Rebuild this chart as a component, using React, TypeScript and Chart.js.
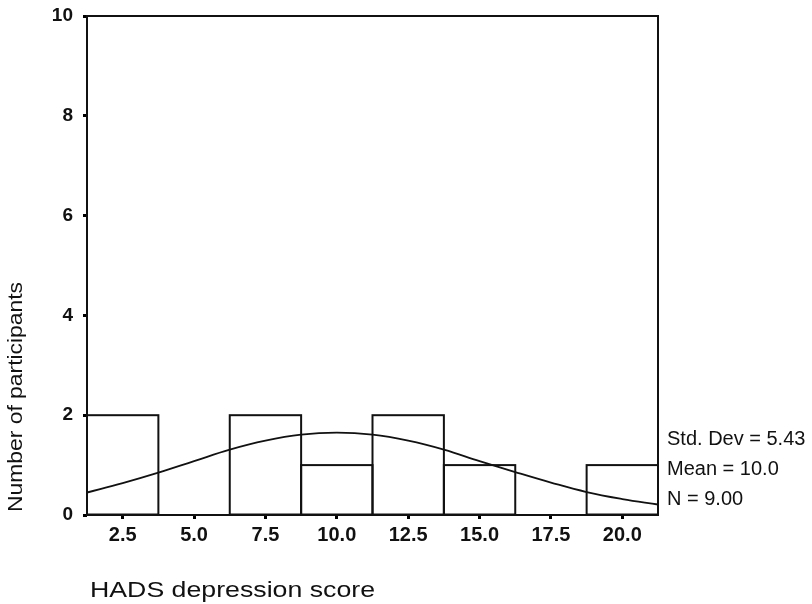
import React, { useEffect, useRef } from "react";
import { Chart, registerables } from "chart.js";

Chart.register(...registerables);

// ---- data ----
const BIN_CENTERS = [2.5, 5.0, 7.5, 10.0, 12.5, 15.0, 17.5, 20.0];
const BIN_COUNTS = [2, 0, 2, 1, 2, 1, 0, 1];
const CURVE_X = [1.25, 2.5, 3.75, 5.0, 6.25, 7.5, 8.75, 10.0, 11.25, 12.5, 13.75, 15.0, 16.25, 17.5, 18.75, 20.0, 21.25];
const CURVE_Y = [0.45, 0.64, 0.85, 1.08, 1.31, 1.49, 1.61, 1.65, 1.61, 1.49, 1.31, 1.08, 0.86, 0.65, 0.46, 0.32, 0.21];
const X_MIN = 1.25;
const X_MAX = 21.25;
const Y_MIN = 0;
const Y_MAX = 10;
const Y_STEP = 2;
const STATS = ["Std. Dev = 5.43", "Mean = 10.0", "N = 9.00"];
const X_TITLE = "HADS depression score";
const Y_TITLE = "Number of participants";

const FONT_FAMILY = "'Liberation Sans', Arial, Helvetica, sans-serif";
const INK = "#111";

function drawStretched(
  ctx: CanvasRenderingContext2D,
  text: string,
  x: number,
  y: number,
  size: number,
  targetWidth: number,
  rotate: boolean
) {
  ctx.save();
  ctx.font = `${size}px ${FONT_FAMILY}`;
  const w = ctx.measureText(text).width;
  ctx.translate(x, y);
  if (rotate) ctx.rotate(-Math.PI / 2);
  ctx.scale(targetWidth / w, 1);
  ctx.fillStyle = INK;
  ctx.textAlign = "left";
  ctx.textBaseline = "alphabetic";
  ctx.fillText(text, 0, 0);
  ctx.restore();
}

const decorPlugin = {
  id: "decor",
  afterDatasetsDraw(chart: any) {
    const { ctx, chartArea: a } = chart;
    ctx.save();
    ctx.strokeStyle = INK;
    ctx.lineWidth = 2;
    // histogram bar outlines (from the library's bar elements)
    const meta = chart.getDatasetMeta(1);
    meta.data.forEach((el: any) => {
      const p = el.getProps(["x", "y", "base", "width"], true);
      if (Math.abs(p.base - p.y) < 0.5) return;
      ctx.strokeRect(p.x - p.width / 2, p.y, p.width, p.base - p.y);
    });
    // frame
    ctx.strokeRect(a.left, a.top, a.right - a.left, a.bottom - a.top);
    ctx.restore();
  },
  afterDraw(chart: any) {
    const { ctx, chartArea: a } = chart;
    ctx.save();
    ctx.font = `20px ${FONT_FAMILY}`;
    ctx.fillStyle = INK;
    ctx.textAlign = "left";
    ctx.textBaseline = "alphabetic";
    const offsets = [70, 40, 10];
    STATS.forEach((s, i) => {
      ctx.fillText(s, a.right + 9, a.bottom - offsets[i]);
    });
    ctx.restore();
    drawStretched(ctx, X_TITLE, 90, 597, 22, 285, false);
    drawStretched(ctx, Y_TITLE, 22, 512, 20, 230, true);
  },
};

export default function App() {
  const canvasRef = useRef<HTMLCanvasElement | null>(null);

  useEffect(() => {
    const canvas = canvasRef.current;
    if (!canvas) return;
    Chart.defaults.font.family = FONT_FAMILY;
    const chart = new Chart(canvas, {
      type: "bar",
      data: {
        datasets: [
          {
            type: "line",
            data: CURVE_X.map((x, i) => ({ x, y: CURVE_Y[i] })),
            borderColor: INK,
            borderWidth: 1.8,
            pointRadius: 0,
            tension: 0.4,
            fill: false,
            order: 0,
          } as any,
          {
            type: "bar",
            data: BIN_CENTERS.map((x, i) => ({ x, y: BIN_COUNTS[i] })),
            backgroundColor: "rgba(255,255,255,0)",
            borderWidth: 0,
            barPercentage: 1,
            categoryPercentage: 1,
            order: 1,
          } as any,
        ],
      },
      options: {
        responsive: false,
        animation: false,
        devicePixelRatio: 1,
        layout: { padding: { top: 16, right: 154, left: 0, bottom: 0 } },
        plugins: {
          legend: { display: false },
          tooltip: { enabled: false },
        },
        scales: {
          x: {
            type: "linear",
            min: X_MIN,
            max: X_MAX,
            offset: false,
            afterBuildTicks: (s: any) => {
              s.ticks = BIN_CENTERS.map((v) => ({ value: v }));
            },
            afterFit: (s: any) => {
              s.height = 89;
              s.paddingLeft = 0;
              s.paddingRight = 0;
            },
            ticks: {
              callback: (v: any) => Number(v).toFixed(1),
              font: { size: 20, weight: "bold" },
              color: INK,
              padding: 4,
              maxRotation: 0,
              autoSkip: false,
            },
            grid: {
              offset: false,
              drawOnChartArea: false,
              drawTicks: true,
              tickLength: 4,
              tickWidth: 3,
              tickColor: "#000",
            },
            border: { display: false },
          },
          y: {
            type: "linear",
            min: Y_MIN,
            max: Y_MAX,
            afterFit: (s: any) => {
              s.width = 87;
              s.paddingTop = 0;
              s.paddingBottom = 0;
            },
            ticks: {
              stepSize: Y_STEP,
              font: { size: 19, weight: "bold" },
              color: INK,
              padding: 10,
            },
            grid: {
              drawOnChartArea: false,
              drawTicks: true,
              tickLength: 4,
              tickWidth: 3,
              tickColor: "#000",
            },
            border: { display: false },
          },
        },
      } as any,
      plugins: [decorPlugin],
    });
    return () => chart.destroy();
  }, []);

  return (
    <div style={{ position: "absolute", left: 0, top: 0, width: 812, height: 604, background: "#fff" }}>
      <canvas ref={canvasRef} width={812} height={604} style={{ display: "block" }} />
    </div>
  );
}
